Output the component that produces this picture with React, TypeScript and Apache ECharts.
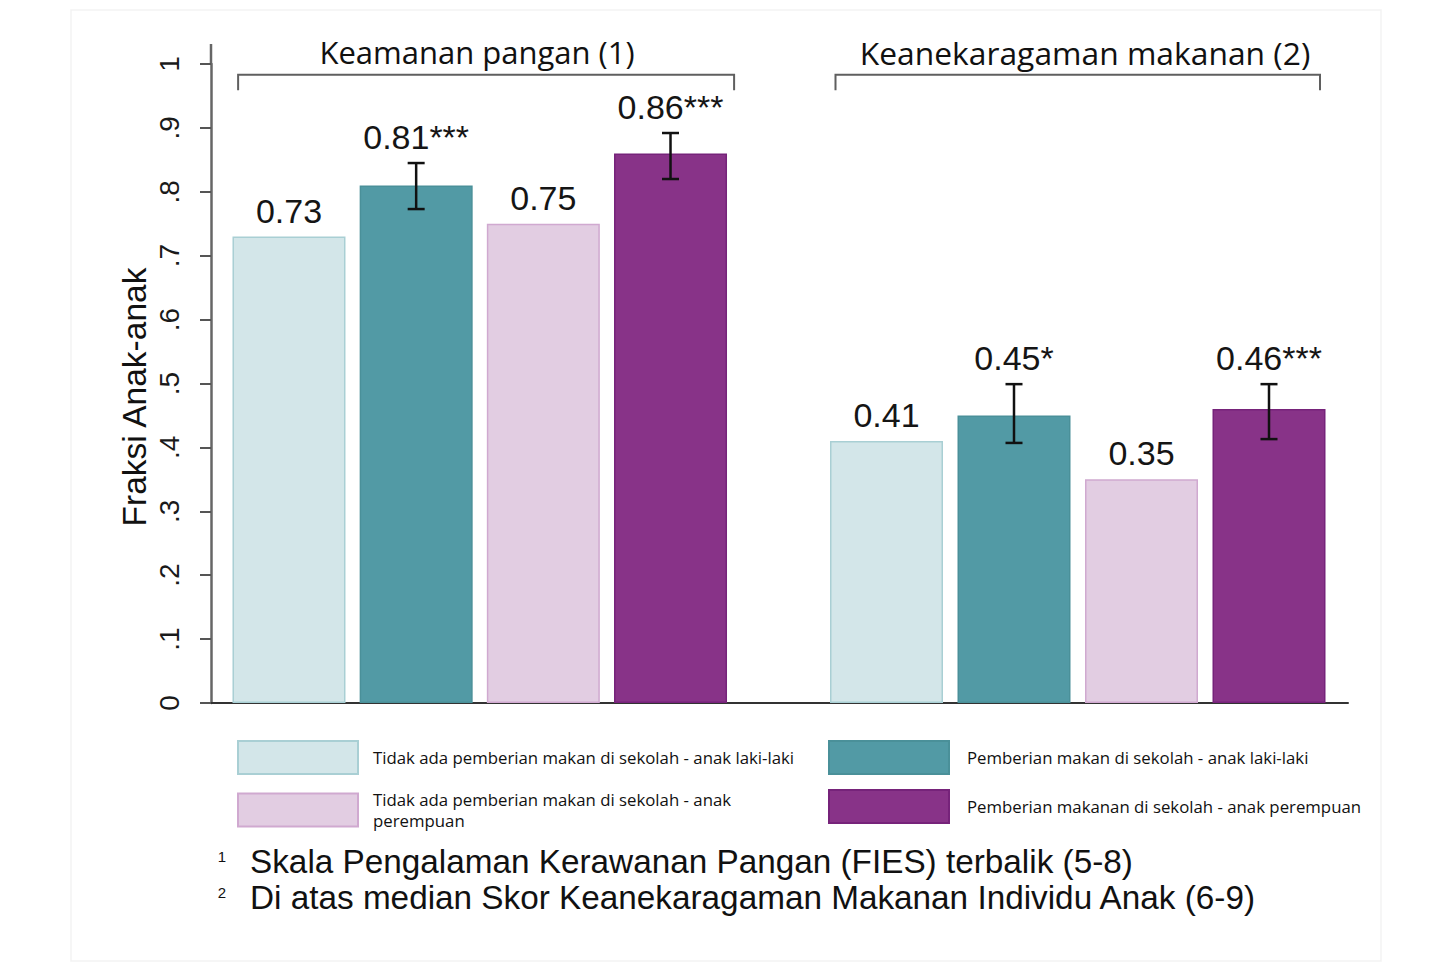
import React, { useEffect, useRef } from 'react';
import * as echarts from 'echarts';

// ---------- data ----------
const seriesNames = [
  'Tidak ada pemberian makan di sekolah - anak laki-laki',
  'Pemberian makan di sekolah - anak laki-laki',
  'Tidak ada pemberian makan di sekolah - anak perempuan',
  'Pemberian makanan di sekolah - anak perempuan',
];
const legendLabels = [
  'Tidak ada pemberian makan di sekolah - anak laki-laki',
  'Pemberian makan di sekolah - anak laki-laki',
  'Tidak ada pemberian makan di sekolah - anak\nperempuan',
  'Pemberian makanan di sekolah - anak perempuan',
];
const seriesColors = ['#d3e6e9', '#529aa5', '#e2cde2', '#883388'];
const seriesBorders = ['#a9cfd4', '#4a9099', '#d0a9d0', '#76237a'];

const groupTitles = ['Keamanan pangan (1)', 'Keanekaragaman makanan (2)'];

const foodSecurity = [0.73, 0.81, 0.75, 0.86];
const foodSecurityLow = [null, 0.773, null, 0.82];
const foodSecurityHigh = [null, 0.845, null, 0.892];
const foodSecurityStars = ['', '***', '', '***'];

const foodDiversity = [0.41, 0.45, 0.35, 0.46];
const foodDiversityLow = [null, 0.407, null, 0.413];
const foodDiversityHigh = [null, 0.499, null, 0.499];
const foodDiversityStars = ['', '*', '', '***'];

const footnoteMarks = ['1', '2'];
const footnotes = [
  'Skala Pengalaman Kerawanan Pangan (FIES) terbalik (5-8)',
  'Di atas median Skor Keanekaragaman Makanan Individu Anak (6-9)',
];

const yAxisName = 'Fraksi Anak-anak';

// ---------- layout ----------
const PLOT_TOP = 64;
const PLOT_BOTTOM = 265;
const SANS = 'Liberation Sans, Arial, sans-serif';
const GEO = 'Open Sans, sans-serif';

const groups = [
  { values: foodSecurity, low: foodSecurityLow, high: foodSecurityHigh, stars: foodSecurityStars, left: 225.4, width: 508.7, bracketL: -0.4, bracketR: 0.5, titleX: 477, titleSize: 31 },
  { values: foodDiversity, low: foodDiversityLow, high: foodDiversityHigh, stars: foodDiversityStars, left: 822.75, width: 510, bracketL: -0.4, bracketR: 0.4, titleX: 1085, titleSize: 31.8 },
];

function buildOption() {
  const grid: any[] = [{ left: 211, right: 104, top: PLOT_TOP, bottom: PLOT_BOTTOM }];
  const xAxis: any[] = [
    {
      type: 'value', gridIndex: 0, min: 0, max: 1,
      axisLine: { show: true, lineStyle: { color: '#333', width: 2 } },
      axisTick: { show: false }, axisLabel: { show: false }, splitLine: { show: false },
    },
  ];
  const yAxis: any[] = [
    {
      type: 'value', gridIndex: 0, min: 0, max: 1, interval: 0.1,
      axisLine: { show: true, lineStyle: { color: '#666', width: 2.5 } },
      axisTick: { show: true, length: 11, lineStyle: { color: '#555', width: 2 } },
      splitLine: { show: false },
      axisLabel: {
        rotate: 90, margin: 28, fontSize: 28, fontFamily: SANS, color: '#1a1a1a',
        formatter: (v: number) => (v === 0 ? '0' : v >= 0.999 ? '1' : '.' + Math.round(v * 10)),
      },
    },
  ];
  const series: any[] = [];

  groups.forEach((g, gi) => {
    const idx = gi + 1;
    grid.push({ left: g.left, width: g.width, top: PLOT_TOP, bottom: PLOT_BOTTOM });
    xAxis.push({ type: 'category', gridIndex: idx, data: seriesNames, show: false, boundaryGap: true });
    yAxis.push({ type: 'value', gridIndex: idx, min: 0, max: 1, show: false });

    seriesNames.forEach((name, k) => {
      series.push({
        type: 'bar', name, xAxisIndex: idx, yAxisIndex: idx, stack: 'g' + gi,
        barWidth: 113,
        itemStyle: { color: seriesColors[k], borderColor: seriesBorders[k], borderWidth: 1.5 },
        data: g.values.map((v, i) => (i === k ? v : '-')),
      });
    });

    // error bars + value labels
    series.push({
      type: 'custom', xAxisIndex: idx, yAxisIndex: idx, z: 5, silent: true,
      data: g.values.map((v, i) => [i, v, g.low[i] ?? v, g.high[i] ?? v]),
      encode: { x: 0, y: [1, 2, 3] },
      renderItem: (params: any, api: any) => {
        const i = api.value(0);
        const v = api.value(1);
        const lo = api.value(2);
        const hi = api.value(3);
        const top = api.coord([i, v]);
        const children: any[] = [];
        let labelBase = top[1];
        if (hi > v) {
          const pHi = api.coord([i, hi]);
          const pLo = api.coord([i, lo]);
          const cap = 8.5;
          const st = { stroke: '#111', lineWidth: 2.5 };
          children.push({ type: 'line', shape: { x1: pHi[0], y1: pHi[1], x2: pLo[0], y2: pLo[1] }, style: st });
          children.push({ type: 'line', shape: { x1: pHi[0] - cap, y1: pHi[1], x2: pHi[0] + cap, y2: pHi[1] }, style: st });
          children.push({ type: 'line', shape: { x1: pLo[0] - cap, y1: pLo[1], x2: pLo[0] + cap, y2: pLo[1] }, style: st });
          labelBase = pHi[1];
        }
        children.push({
          type: 'text',
          style: {
            text: v.toFixed(2) + g.stars[params.dataIndex],
            x: top[0], y: labelBase - 26,
            align: 'center', verticalAlign: 'middle',
            fontSize: 34, fontFamily: SANS, fill: '#151515',
          },
        });
        return { type: 'group', children };
      },
    });

    // group bracket
    series.push({
      type: 'custom', xAxisIndex: idx, yAxisIndex: idx, z: 5, silent: true,
      data: [[0, 0.983]],
      renderItem: (params: any, api: any) => {
        const bw = api.size([1, 0])[0];
        const c0 = api.coord([0, 0.983]);
        const c3 = api.coord([3, 0.983]);
        const b = api.coord([0, 0.959]);
        const xl = c0[0] + g.bracketL * bw;
        const xr = c3[0] + g.bracketR * bw;
        return {
          type: 'polyline',
          shape: { points: [[xl, b[1]], [xl, c0[1]], [xr, c0[1]], [xr, b[1]]] },
          style: { stroke: '#5f5f5f', lineWidth: 2, fill: null },
        };
      },
    });
  });

  const legendPos = [
    { left: 237, top: 740 },
    { left: 828, top: 740 },
    { left: 237, top: 789 },
    { left: 828, top: 789 },
  ];
  const legendPad = [
    [0, 0, 0, 10],
    [0, 0, 0, 13],
    [0, 0, 0, 10],
    [0, 0, 0, 13],
  ];
  const legend = seriesNames.map((n, k) => ({
    data: [n], ...legendPos[k], padding: 0, itemWidth: 120, itemHeight: 33, icon: 'rect',
    selectedMode: false, formatter: () => legendLabels[k],
    textStyle: { fontFamily: GEO, fontSize: 16.8, color: '#111', lineHeight: 21, padding: legendPad[k] },
  }));

  const graphic: any[] = [
    { type: 'rect', shape: { x: 71, y: 10, width: 1310, height: 951 }, style: { fill: 'none', stroke: '#f3f3f3', lineWidth: 1.5 }, z: -1 },
    { type: 'line', shape: { x1: 211, y1: 44, x2: 211, y2: PLOT_TOP }, style: { stroke: '#666', lineWidth: 2.5 } },
    {
      type: 'text', x: 134, y: 397, rotation: Math.PI / 2,
      style: { text: yAxisName, align: 'center', verticalAlign: 'middle', fontSize: 33.5, fontFamily: SANS, fill: '#111' },
    },
  ];
  groups.forEach((g, gi) => {
    graphic.push({
      type: 'text', x: g.titleX, y: 52,
      style: { text: groupTitles[gi], align: 'center', verticalAlign: 'middle', fontSize: g.titleSize, fontFamily: GEO, fill: '#111' },
    });
  });
  footnotes.forEach((t, i) => {
    const y = 861 + i * 36;
    graphic.push({
      type: 'text', x: 222, y: y - 5,
      style: { text: footnoteMarks[i], align: 'center', verticalAlign: 'middle', fontSize: 15, fontFamily: SANS, fill: '#111' },
    });
    graphic.push({
      type: 'text', x: 250, y,
      style: { text: t, align: 'left', verticalAlign: 'middle', fontSize: 33.3, fontFamily: SANS, fill: '#111' },
    });
  });

  return {
    animation: false,
    backgroundColor: '#ffffff',
    grid, xAxis, yAxis, series, legend, graphic,
  };
}

export default function App() {
  const ref = useRef<HTMLDivElement>(null);
  useEffect(() => {
    document.body.style.margin = '0';
    if (!ref.current) return;
    const chart = echarts.init(ref.current, null, { renderer: 'svg' });
    chart.setOption(buildOption() as any);
    return () => chart.dispose();
  }, []);
  return <div ref={ref} style={{ width: 1452, height: 968 }} />;
}
